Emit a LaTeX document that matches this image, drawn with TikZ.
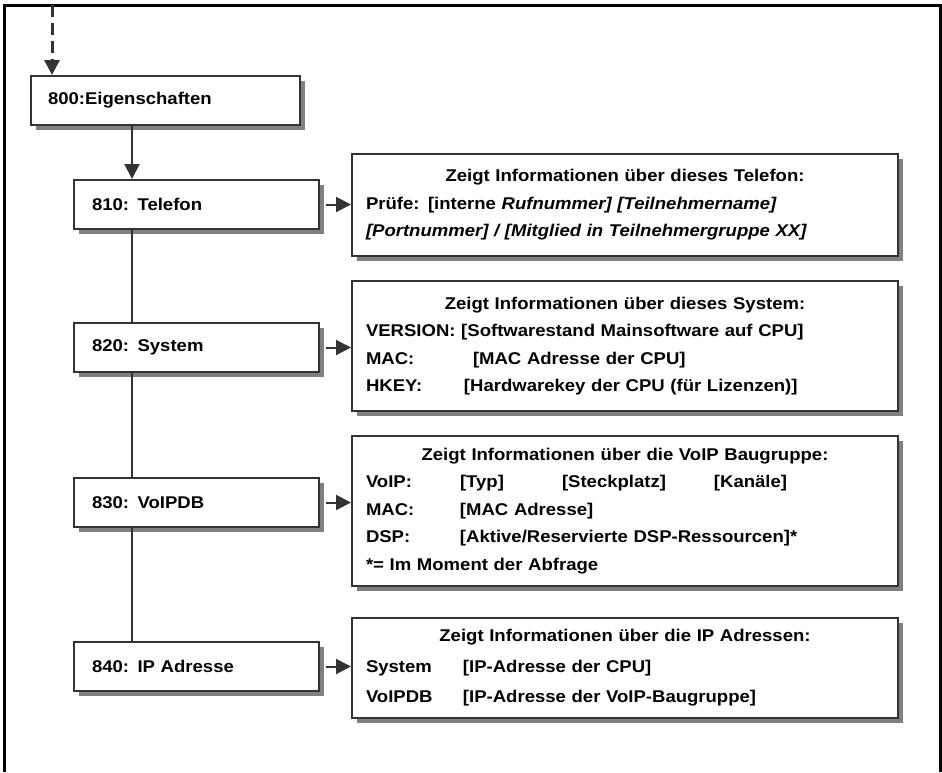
\documentclass[tikz,border=0pt]{standalone}
\usepackage{fontspec}
\setmainfont[FakeStretch=1.09]{Liberation Sans}
\usetikzlibrary{arrows.meta,positioning,shadows}
\definecolor{linegray}{HTML}{333333}
\definecolor{shadegray}{HTML}{808080}

\begin{document}
\begin{tikzpicture}[
  x=1pt, y=-1pt,
  font=\fontsize{17pt}{27.5pt}\selectfont\bfseries,
  menu/.style={draw=linegray, line width=2pt, fill=white, minimum height=49pt, anchor=north west, align=left,
    drop shadow={shadow xshift=5pt, shadow yshift=-5pt, fill=shadegray, opacity=1}},
  item/.style={menu, minimum width=245pt, text width=209pt, inner xsep=18pt},
  info/.style={menu, minimum width=546pt, text width=518pt, inner xsep=14pt},
  tip/.style={-{Triangle[length=15pt,width=15pt]}, draw=linegray, line width=2pt}
]
\useasboundingbox (0,0) rectangle (942,772);
\draw[line width=3pt] (4,772) -- (4,5) -- (940,5) -- (940,772);

% Menuebaum
\node[menu, minimum width=269pt, text width=235pt, inner xsep=17pt] (e800) at (30,75) {800:Eigenschaften};
\node[item] (l810) at (73,179) {810: Telefon};
\node[item, below=92pt of l810] (l820) {820: System};
\node[item, below=104pt of l820] (l830) {830: VoIPDB};
\node[item, below=113pt of l830] (l840) {840: IP Adresse};

% Infoboxen
\node[info, minimum height=102pt] (iT) at (351,153) {\makebox[518pt]{Zeigt Informationen über dieses Telefon:}\\
Prüfe: [interne \textit{Rufnummer] [Teilnehmername]}\\
\textit{[Portnummer] / [Mitglied in Teilnehmergruppe XX]}};
\node[info, minimum height=130pt] (iS) at (351,280) {\makebox[518pt]{Zeigt Informationen über dieses System:}\\
VERSION: [Softwarestand Mainsoftware auf CPU]\\
\makebox[107pt][l]{MAC:}[MAC Adresse der CPU]\\
\makebox[98pt][l]{HKEY:}[Hardwarekey der CPU (für Lizenzen)]};
\node[info, minimum height=150pt] (iV) at (351,435) {\makebox[518pt]{Zeigt Informationen über die VoIP Baugruppe:}\\
\makebox[94pt][l]{VoIP:}\makebox[102pt][l]{[Typ]}\makebox[152pt][l]{[Steckplatz]}[Kanäle]\\
\makebox[94pt][l]{MAC:}[MAC Adresse]\\
\makebox[94pt][l]{DSP:}[Aktive/Reservierte DSP-Ressourcen]*\\
{}*= Im Moment der Abfrage};
\node[info, minimum height=100pt] (iI) at (351,617) {\makebox[518pt]{Zeigt Informationen über die IP Adressen:}\\[3pt]
\makebox[97pt][l]{System}[IP-Adresse der CPU]\\[3pt]
\makebox[97pt][l]{VoIPDB}[IP-Adresse der VoIP-Baugruppe]};

% Verbindungen
\coordinate (entry) at (52,5);
\coordinate (spine) at (132,0);
\draw[tip, line width=3pt, dash pattern=on 12pt off 6pt] (entry) -- (entry |- e800.north);
\draw[tip] (spine |- e800.south) -- (spine |- l810.north);
\draw[linegray, line width=1.5pt] (spine |- l810.south) -- (spine |- l820.north);
\draw[linegray, line width=1.5pt] (spine |- l820.south) -- (spine |- l830.north);
\draw[linegray, line width=1.5pt] (spine |- l830.south) -- (spine |- l840.north);
\draw[tip] ([xshift=6pt]l810.east) -- (l810.east -| iT.west);
\draw[tip] ([xshift=6pt]l820.east) -- (l820.east -| iS.west);
\draw[tip] ([xshift=6pt]l830.east) -- (l830.east -| iV.west);
\draw[tip] ([xshift=6pt]l840.east) -- (l840.east -| iI.west);
\end{tikzpicture}
\end{document}
